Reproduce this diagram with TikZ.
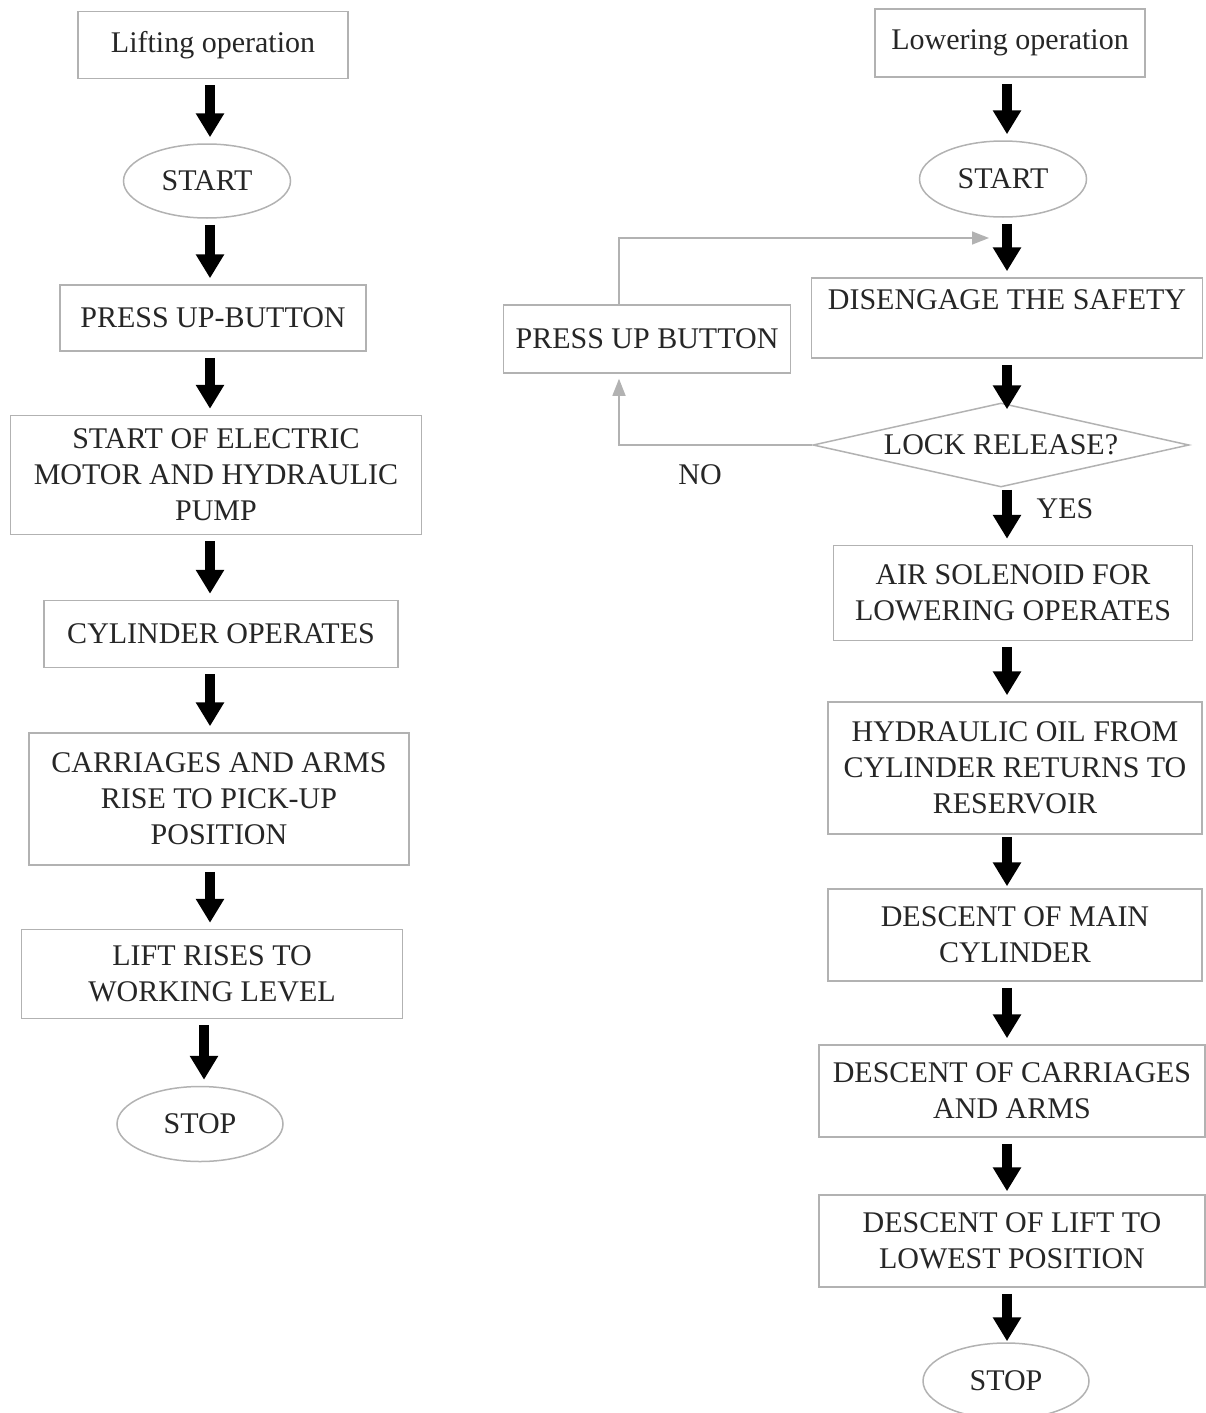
\documentclass[tikz,border=0pt]{standalone}
\usepackage{fontspec}
\setmainfont{Liberation Serif}
\usepackage{xcolor}
\usetikzlibrary{shapes.geometric,arrows.meta}

\tikzset{
	box/.style={draw=gray!60, line width=1.5pt, rectangle, align=center, inner sep=0pt, text=black!85, font=\fontsize{30}{36}\selectfont},
	term/.style={draw=gray!60, line width=1.5pt, ellipse, inner sep=0pt, text=black!85, font=\fontsize{30}{36}\selectfont},
	decision/.style={draw=gray!60, line width=1.5pt, diamond, aspect=4.5, inner sep=0pt, text=black!85, font=\fontsize{30}{36}\selectfont},
	lbl/.style={text=black!85, font=\fontsize{30}{36}\selectfont},
	bigarrow/.style={line width=10pt, -{Triangle[width=27pt,length=24pt]}, shorten <=6pt, shorten >=6pt},
	thinarrow/.style={draw=gray!60, line width=1.5pt, -{Triangle[width=13pt,length=17pt]}, fill=none}
}

\begin{document}
\begin{tikzpicture}[x=1pt, y=-1pt]
	\useasboundingbox (0,0) rectangle (1206,1413);

	% Lifting operation
	\node[box, minimum width=270pt, minimum height=67pt] (l1) at (213,45) {Lifting operation};
	\node[term, minimum width=167pt, minimum height=74pt] (l2) at (207,181) {START};
	\node[box, minimum width=306pt, minimum height=66pt] (l3) at (213,318) {PRESS UP-BUTTON};
	\node[box, minimum width=411pt, minimum height=119pt] (l4) at (216,475) {START OF ELECTRIC\\MOTOR AND HYDRAULIC\\PUMP};
	\node[box, minimum width=354pt, minimum height=67pt] (l5) at (221,634) {CYLINDER OPERATES};
	\node[box, minimum width=380pt, minimum height=132pt] (l6) at (219,799) {CARRIAGES AND ARMS\\RISE TO PICK-UP\\POSITION};
	\node[box, minimum width=381pt, minimum height=89pt] (l7) at (212,974) {LIFT RISES TO\\WORKING LEVEL};
	\node[term, minimum width=166pt, minimum height=75pt] (l8) at (200,1124) {STOP};

	\coordinate (lx) at (210,0);
	\coordinate (lx2) at (204,0);

	% Thick arrows, left column
	\draw[bigarrow] (l1.south -| lx) -- (l2.north -| lx);
	\draw[bigarrow] (l2.south -| lx) -- (l3.north -| lx);
	\draw[bigarrow] (l3.south -| lx) -- (l4.north -| lx);
	\draw[bigarrow] (l4.south -| lx) -- (l5.north -| lx);
	\draw[bigarrow] (l5.south -| lx) -- (l6.north -| lx);
	\draw[bigarrow] (l6.south -| lx) -- (l7.north -| lx);
	\draw[bigarrow] (l7.south -| lx2) -- (l8.north -| lx2);

	% Lowering operation
	\node[box, minimum width=270pt, minimum height=68pt] (r1) at (1010,43) {Lowering operation};
	\node[term, minimum width=167pt, minimum height=76pt] (r2) at (1003,179) {START};
	\node[box, minimum width=391pt, minimum height=80pt] (r3) at (1007,318) {DISENGAGE THE SAFETY\\\mbox{}};
	\node[box, minimum width=287pt, minimum height=68pt] (rp) at (647,339) {PRESS UP BUTTON};
	\node[decision, minimum width=376pt, minimum height=84pt] (r4) at (1001,445) {LOCK RELEASE?};
	\node[box, minimum width=359pt, minimum height=95pt] (r5) at (1013,593) {AIR SOLENOID FOR\\LOWERING OPERATES};
	\node[box, minimum width=374pt, minimum height=132pt] (r6) at (1015,768) {HYDRAULIC OIL FROM\\CYLINDER RETURNS TO\\RESERVOIR};
	\node[box, minimum width=374pt, minimum height=92pt] (r7) at (1015,935) {DESCENT OF MAIN\\CYLINDER};
	\node[box, minimum width=386pt, minimum height=92pt] (r8) at (1012,1091) {DESCENT OF CARRIAGES\\AND ARMS};
	\node[box, minimum width=386pt, minimum height=92pt] (r9) at (1012,1241) {DESCENT OF LIFT TO\\LOWEST POSITION};
	\node[term, minimum width=166pt, minimum height=76pt] (r10) at (1006,1381) {STOP};

	\node[lbl] (no) at (700,475) {NO};
	\node[lbl] (yes) at (1065,509) {YES};

	\coordinate (rx) at (1007,0);
	\coordinate (nox) at (619,0);
	\coordinate (fbk) at (989,238);

	% Thick arrows, right column
	\draw[bigarrow] (r1.south -| rx) -- (r2.north -| rx);
	\draw[bigarrow] (r2.south -| rx) -- (r3.north -| rx);
	\draw[bigarrow, shorten >=-7pt] (r3.south -| rx) -- (r4.north -| rx);
	\draw[bigarrow, shorten <=2pt] (r4.south -| rx) -- (r5.north -| rx);
	\draw[bigarrow] (r5.south -| rx) -- (r6.north -| rx);
	\draw[bigarrow, shorten <=2pt, shorten >=2pt] (r6.south -| rx) -- (r7.north -| rx);
	\draw[bigarrow] (r7.south -| rx) -- (r8.north -| rx);
	\draw[bigarrow, shorten >=3pt] (r8.south -| rx) -- (r9.north -| rx);
	\draw[bigarrow, shorten >=1pt] (r9.south -| rx) -- (r10.north -| rx);

	% NO branch back to the start
	\draw[thinarrow, shorten >=5pt] (r4.west) -- (r4.west -| nox) -- (rp.south -| nox);
	\draw[thinarrow] (rp.north -| nox) |- (fbk);
\end{tikzpicture}
\end{document}
